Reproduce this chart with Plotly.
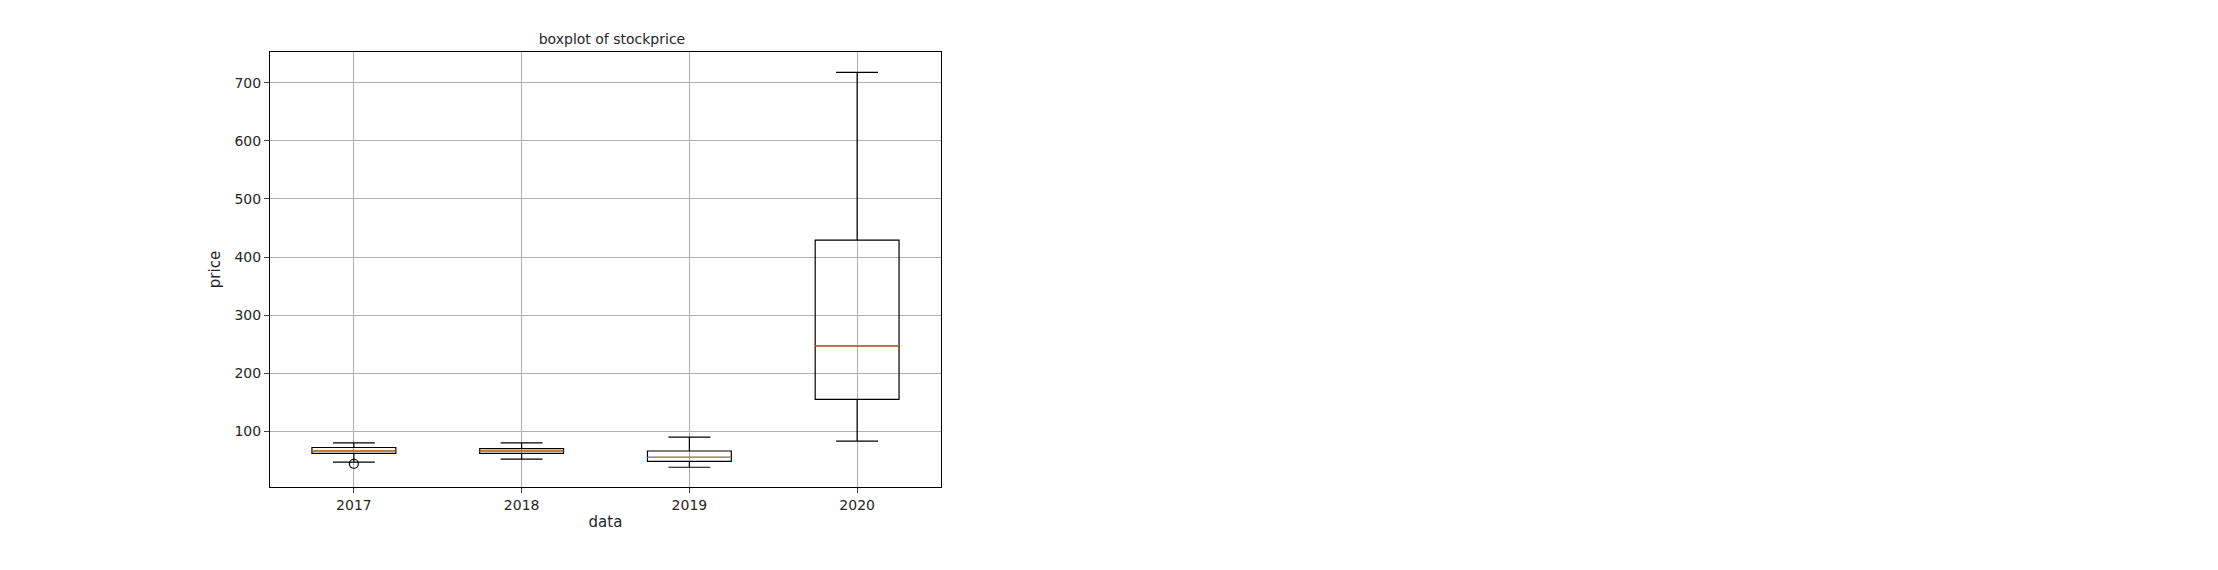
import plotly.graph_objects as go

years = ["2017", "2018", "2019", "2020"]
q1 = [62, 62, 48, 155]
median = [66, 66, 55, 247]
q3 = [72, 70, 66, 429]
lower = [47, 52, 38, 83]
upper = [80, 80, 90, 718]
outlier_year = [1]
outlier_val = [44]

box_w = 0.5
pos = list(range(1, len(years) + 1))

fig = go.Figure()
for i, p in enumerate(pos):
    fig.add_trace(go.Box(
        x=[p], q1=[q1[i]], median=[median[i]], q3=[q3[i]],
        lowerfence=[lower[i]], upperfence=[upper[i]],
        width=box_w, whiskerwidth=0.5,
        line=dict(color="black", width=1.2),
        fillcolor="rgba(0,0,0,0)", boxpoints=False, hoverinfo="skip"))
    fig.add_trace(go.Scatter(
        x=[p - box_w / 2, p + box_w / 2], y=[median[i], median[i]],
        mode="lines", line=dict(color="#ff7f0e", width=1.2), hoverinfo="skip"))

fig.add_trace(go.Scatter(
    x=outlier_year, y=outlier_val, mode="markers",
    marker=dict(symbol="circle-open", size=9, color="black", line=dict(width=1.2))))

fig.update_layout(
    width=2218, height=570, showlegend=False,
    paper_bgcolor="white", plot_bgcolor="white",
    margin=dict(l=262, r=1285, t=44, b=91),
    font=dict(family="DejaVu Sans", size=14, color="#262626"),
    title=dict(text="boxplot of stockprice", x=0.2723, xanchor="center",
               y=0.945, yanchor="middle", font=dict(size=14)),
    xaxis=dict(range=[0.5, 4.5], tickvals=pos, ticktext=years,
               showgrid=True, gridcolor="#b0b0b0", zeroline=False,
               showline=True, mirror=True, linecolor="black",
               ticks="outside", ticklen=5,
               title=dict(text="data", standoff=4, font=dict(size=15))),
    yaxis=dict(range=[4, 753], tickvals=[100, 200, 300, 400, 500, 600, 700],
               showgrid=True, gridcolor="#b0b0b0", zeroline=False,
               showline=True, mirror=True, linecolor="black",
               ticks="outside", ticklen=5,
               title=dict(text="price", standoff=10, font=dict(size=15))),
)

fig.write_html("out.html")
